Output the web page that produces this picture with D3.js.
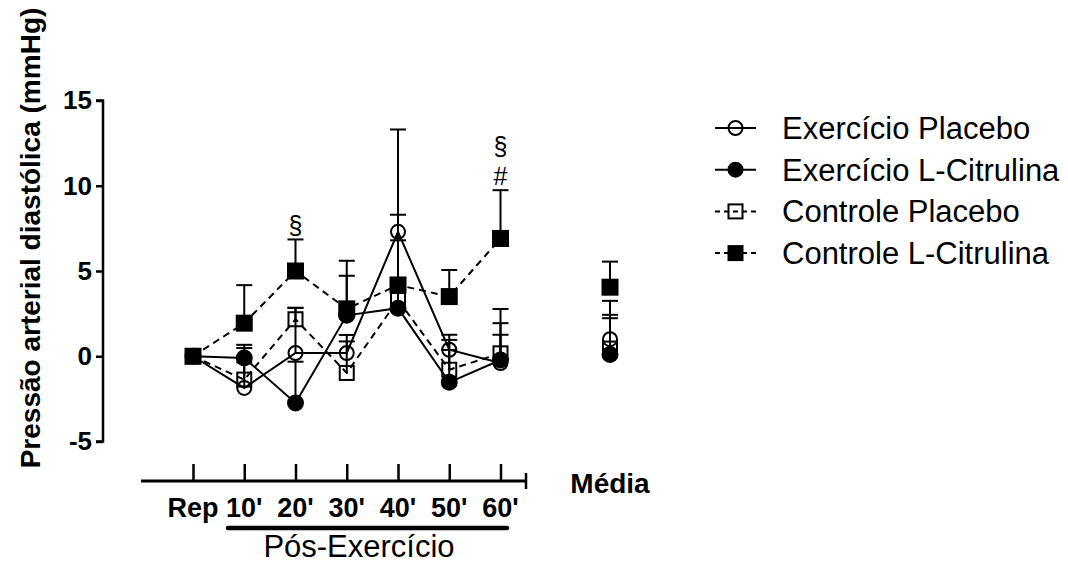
<!DOCTYPE html>
<html><head><meta charset="utf-8">
<script src="https://cdn.jsdelivr.net/npm/d3@7"></script>
<style>html,body{margin:0;padding:0;background:#fff}svg{display:block}</style>
</head><body>
<svg id="chart" width="1068" height="576"></svg>
<script>
const categories = ["Rep", "10'", "20'", "30'", "40'", "50'", "60'"];
const mediaLabel = "Média";
const yTicks = [-5, 0, 5, 10, 15];
const seriesNames = ["Exercício Placebo", "Exercício L-Citrulina", "Controle Placebo", "Controle L-Citrulina"];

const exPlacebo      = [0, -1.86, 0.19, 0.19, 7.3, 0.38, -0.4];
const exPlaceboSem   = [0, 1.5, 2.65, 1.06, 6.0, 0.88, 1.66];
const exCitrulina    = [0, -0.1, -2.74, 2.4, 2.82, -1.53, -0.22];
const exCitrulinaSem = [0, 0.77, 2.42, 2.32, 1.0, 1.9, 2.16];
const ctPlacebo      = [0, -1.37, 2.17, -0.98, 3.3, -0.79, 0.17];
const ctPlaceboSem   = [0, 1.85, 0.67, 1.85, 3.5, 1.75, 2.6];
const ctCitrulina    = [0, 1.94, 5.0, 2.78, 4.18, 3.5, 6.91];
const ctCitrulinaSem = [0, 2.23, 1.85, 2.82, 4.12, 1.56, 2.83];

const mediaValues = [1.0, 0.1, 0.45, 4.05];
const mediaSem    = [1.43, 3.15, 1.78, 1.5];

const annotations = [
  {cat: "20'", text: "§", level: 0},
  {cat: "60'", text: "#", level: 0},
  {cat: "60'", text: "§", level: 1}
];

const series = [
  {name: seriesNames[0], values: exPlacebo, sem: exPlaceboSem, shape: "circle", filled: false, dashed: false},
  {name: seriesNames[1], values: exCitrulina, sem: exCitrulinaSem, shape: "circle", filled: true, dashed: false},
  {name: seriesNames[2], values: ctPlacebo, sem: ctPlaceboSem, shape: "square", filled: false, dashed: true},
  {name: seriesNames[3], values: ctCitrulina, sem: ctCitrulinaSem, shape: "square", filled: true, dashed: true}
];

const svg = d3.select("#chart");
const FONT = "'Liberation Sans', Arial, sans-serif";

const y = d3.scaleLinear().domain([-5, 15]).range([441.5, 100.5]);
const x = d3.scalePoint().domain(categories).range([193, 500.5]);
const xm = d3.scalePoint().domain([mediaLabel]).range([610, 610]);

// Y axis
const yAxis = d3.axisLeft(y).tickValues(yTicks).tickSize(7).tickPadding(4).tickFormat(d => String(d));
const gy = svg.append("g").attr("transform", "translate(103,0)").call(yAxis);
gy.select(".domain").attr("d", `M-7,${y(15)}H0V${y(-5)}H-7`).attr("stroke-width", 2.5).attr("stroke", "#000");
gy.selectAll(".tick line").attr("stroke-width", 2.5);
gy.selectAll(".tick text").attr("font-family", FONT).attr("font-size", 26).attr("font-weight", "bold").attr("fill", "#000");

// X axis
const gx = svg.append("g").attr("transform", "translate(0,481)");
const xAxis = d3.axisTop(x).tickSize(17).tickFormat("");
gx.call(xAxis);
gx.select(".domain").remove();
gx.selectAll(".tick line").attr("stroke-width", 2.5).attr("stroke", "#000");
gx.append("line").attr("x1", 141).attr("x2", 526).attr("y1", 0).attr("y2", 0).attr("stroke", "#000").attr("stroke-width", 3);
gx.append("line").attr("x1", 526).attr("x2", 526).attr("y1", -8).attr("y2", 8).attr("stroke", "#000").attr("stroke-width", 2.5);

svg.append("g").selectAll("text").data(categories).join("text")
  .attr("x", d => x(d)).attr("y", 517)
  .attr("text-anchor", "middle").attr("font-family", FONT).attr("font-size", 27).attr("font-weight", "bold")
  .text(d => d);

svg.append("text").attr("x", xm(mediaLabel)).attr("y", 493).attr("text-anchor", "middle")
  .attr("font-family", FONT).attr("font-size", 28).attr("font-weight", "bold").text(mediaLabel);

svg.append("line").attr("x1", 228).attr("x2", 507).attr("y1", 528).attr("y2", 528)
  .attr("stroke", "#000").attr("stroke-width", 4.5).attr("stroke-linecap", "round");
svg.append("text").attr("x", 359).attr("y", 557).attr("text-anchor", "middle")
  .attr("font-family", FONT).attr("font-size", 31).text("Pós-Exercício");

// Y title
svg.append("text").attr("transform", "translate(40,238) rotate(-90)").attr("text-anchor", "middle")
  .attr("font-family", FONT).attr("font-size", 28).attr("font-weight", "bold").text("Pressão arterial diastólica (mmHg)");

// Lines
const line = d3.line().x((d, i) => x(categories[i])).y(d => y(d));
const plot = svg.append("g");
series.forEach(s => {
  plot.append("path").attr("d", line(s.values)).attr("fill", "none").attr("stroke", "#000")
    .attr("stroke-width", 2).attr("stroke-dasharray", s.dashed ? "7,5" : null);
});

// Error bars
function errBar(g, cx, v, e) {
  if (e <= 0) return;
  g.append("line").attr("x1", cx).attr("x2", cx).attr("y1", y(v)).attr("y2", y(v + e)).attr("stroke", "#000").attr("stroke-width", 2);
  g.append("line").attr("x1", cx - 8).attr("x2", cx + 8).attr("y1", y(v + e)).attr("y2", y(v + e)).attr("stroke", "#000").attr("stroke-width", 2);
}
const eg = svg.append("g");
series.forEach((s, si) => {
  s.values.forEach((v, i) => errBar(eg, x(categories[i]), v, s.sem[i]));
  errBar(eg, xm(mediaLabel), mediaValues[si], mediaSem[si]);
});

// Markers
function marker(g, shape, filled, cx, cy, size) {
  if (shape === "circle") {
    g.append("circle").attr("cx", cx).attr("cy", cy).attr("r", size / 2)
      .attr("fill", filled ? "#000" : "none").attr("stroke", "#000").attr("stroke-width", 2);
  } else {
    g.append("rect").attr("x", cx - size / 2).attr("y", cy - size / 2).attr("width", size).attr("height", size)
      .attr("fill", filled ? "#000" : "none").attr("stroke", "#000").attr("stroke-width", 2);
  }
}
const mg = svg.append("g");
series.forEach((s, si) => {
  s.values.forEach((v, i) => marker(mg, s.shape, s.filled, x(categories[i]), y(v), s.filled ? 15 : 14));
  marker(mg, s.shape, s.filled, xm(mediaLabel), y(mediaValues[si]), s.filled ? 15 : 14);
});

// Annotations (placed above the top error cap of Controle L-Citrulina)
annotations.forEach(a => {
  const i = categories.indexOf(a.cat);
  const top = ctCitrulina[i] + ctCitrulinaSem[i];
  svg.append("text").attr("x", x(a.cat)).attr("y", y(top) - (a.level === 0 ? 5 : 35))
    .attr("text-anchor", "middle").attr("font-family", FONT).attr("font-size", 25).text(a.text);
});

// Legend
const lg = svg.append("g");
series.forEach((s, i) => {
  const cy = 128 + i * 41.7;
  lg.append("line").attr("x1", 715).attr("x2", 756).attr("y1", cy).attr("y2", cy)
    .attr("stroke", "#000").attr("stroke-width", 2).attr("stroke-dasharray", s.dashed ? "5,4" : null);
  marker(lg, s.shape, s.filled, 735.5, cy, 14);
  lg.append("text").attr("x", 782).attr("y", cy + 11).attr("font-family", FONT).attr("font-size", 31).text(s.name);
});
</script>
</body></html>
